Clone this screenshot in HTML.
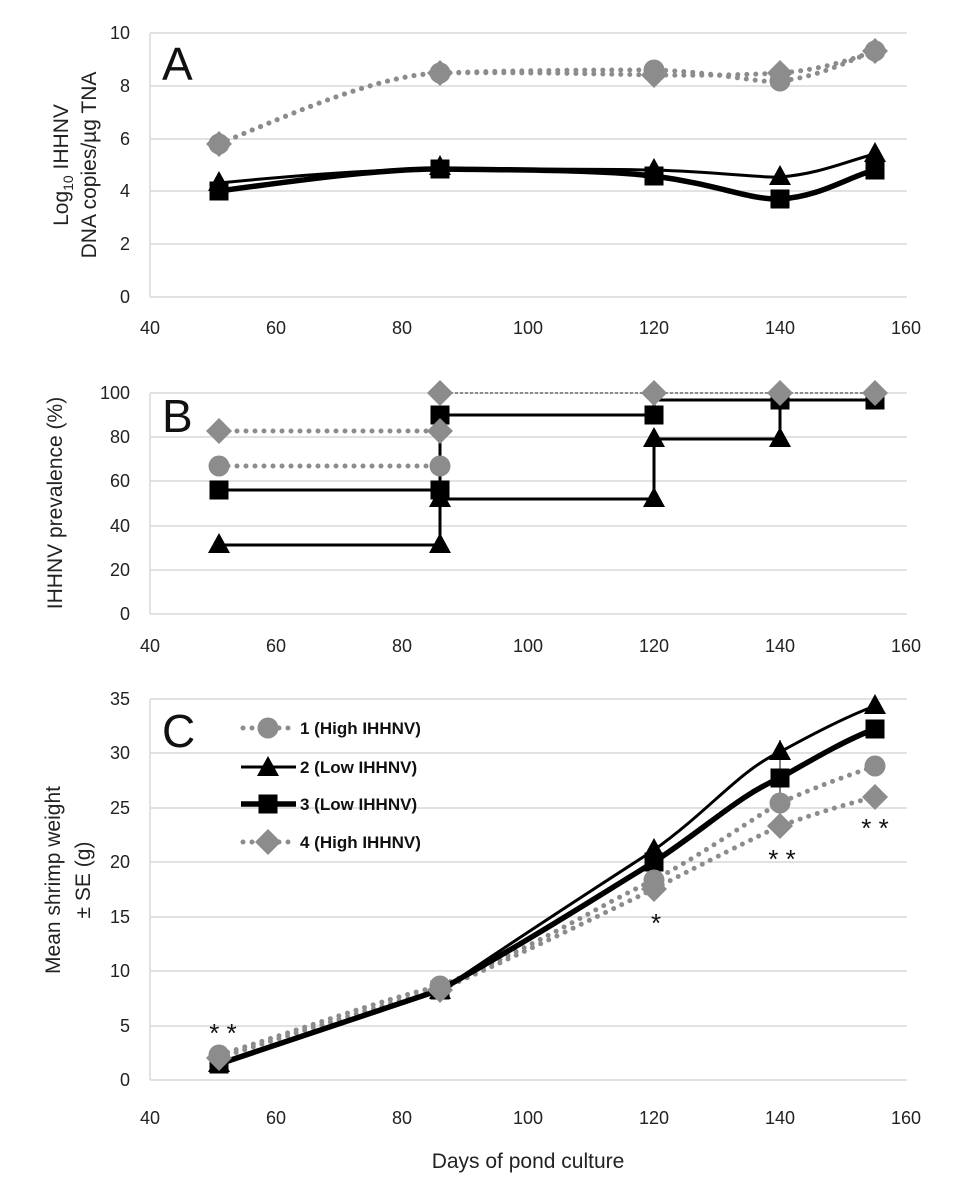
<!DOCTYPE html>
<html><head><meta charset="utf-8"><style>
html,body{margin:0;padding:0;background:#fff;}
svg{display:block;font-family:"Liberation Sans",sans-serif;}
.t{font-size:18px;fill:#222;}
.g{stroke:#d9d9d9;stroke-width:1.5;}
.gr{fill:none;stroke:#8c8c8c;stroke-width:5;stroke-linecap:round;stroke-dasharray:0 9;}
.bk{fill:none;stroke:#000;stroke-width:3;}
.bk2{fill:none;stroke:#000;stroke-width:5.5;}
</style></head><body>
<svg width="960" height="1182" viewBox="0 0 960 1182">
<defs>
<g id="ci"><circle r="10.5" fill="#8c8c8c"/></g>
<g id="di"><polygon points="0,-13 13,0 0,13 -13,0" fill="#8c8c8c"/></g>
<g id="sq"><rect x="-9.5" y="-9.5" width="19" height="19" fill="#000"/></g>
<g id="tr"><polygon points="0,-12 11,8 -11,8" fill="#000"/></g>
</defs>

<!-- Panel A -->
<g>
<line class="g" x1="150" y1="33" x2="907" y2="33"/><line class="g" x1="150" y1="86" x2="907" y2="86"/>
<line class="g" x1="150" y1="139" x2="907" y2="139"/><line class="g" x1="150" y1="191" x2="907" y2="191"/>
<line class="g" x1="150" y1="244" x2="907" y2="244"/><line class="g" x1="150" y1="297" x2="907" y2="297"/>
<line class="g" x1="150" y1="33" x2="150" y2="297"/>
<g class="t" text-anchor="end"><text x="130" y="39">10</text><text x="130" y="92">8</text><text x="130" y="145">6</text><text x="130" y="197">4</text><text x="130" y="250">2</text><text x="130" y="303">0</text></g>
<g class="t" text-anchor="middle"><text x="150" y="334">40</text><text x="276" y="334">60</text><text x="402" y="334">80</text><text x="528" y="334">100</text><text x="654" y="334">120</text><text x="780" y="334">140</text><text x="906" y="334">160</text></g>
<text x="162" y="80" font-size="46" fill="#111">A</text>
<text transform="translate(68,165) rotate(-90)" text-anchor="middle" font-size="21" fill="#222">Log<tspan font-size="14" dy="5">10</tspan><tspan dy="-5"> IHHNV</tspan></text>
<text transform="translate(96,165) rotate(-90)" text-anchor="middle" font-size="21" fill="#222">DNA copies/µg TNA</text>
<path class="gr" d="M219,144 C300,110 380,75 440,73 C520,70 600,70 654,70 C720,72 760,84 780,81 C820,77 850,60 875,51"/>
<path class="gr" d="M219,144 C300,110 380,75 440,73 C520,72 600,74 654,75 C720,76 760,74 780,73 C820,70 850,60 875,51"/>
<path class="bk" d="M219,183 C300,175 380,169 440,169 C520,169 600,169 654,170 C720,172 760,178 780,177 C820,174 850,160 875,154"/>
<path class="bk2" d="M219,191 C300,180 380,169 440,169 C520,170 600,170 654,176 C720,185 750,200 780,199 C820,197 850,176 875,170"/>
<use href="#ci" x="219" y="144"/><use href="#di" x="219" y="144"/>
<use href="#ci" x="440" y="73"/><use href="#di" x="440" y="73"/>
<use href="#ci" x="654" y="70"/><use href="#di" x="654" y="75"/>
<use href="#ci" x="780" y="81"/><use href="#di" x="780" y="73"/>
<use href="#ci" x="875" y="51"/><use href="#di" x="875" y="51"/>
<use href="#tr" x="219" y="183"/><use href="#sq" x="219" y="191"/>
<use href="#tr" x="440" y="167"/><use href="#sq" x="440" y="169"/>
<use href="#tr" x="654" y="170"/><use href="#sq" x="654" y="176"/>
<use href="#tr" x="780" y="177"/><use href="#sq" x="780" y="199"/>
<use href="#tr" x="875" y="154"/><use href="#sq" x="875" y="170"/>
</g>

<!-- Panel B -->
<g>
<line class="g" x1="150" y1="393" x2="907" y2="393"/><line class="g" x1="150" y1="437" x2="907" y2="437"/>
<line class="g" x1="150" y1="481" x2="907" y2="481"/><line class="g" x1="150" y1="526" x2="907" y2="526"/>
<line class="g" x1="150" y1="570" x2="907" y2="570"/><line class="g" x1="150" y1="614" x2="907" y2="614"/>
<line class="g" x1="150" y1="393" x2="150" y2="614"/>
<g class="t" text-anchor="end"><text x="130" y="399">100</text><text x="130" y="443">80</text><text x="130" y="487">60</text><text x="130" y="532">40</text><text x="130" y="576">20</text><text x="130" y="620">0</text></g>
<g class="t" text-anchor="middle"><text x="150" y="652">40</text><text x="276" y="652">60</text><text x="402" y="652">80</text><text x="528" y="652">100</text><text x="654" y="652">120</text><text x="780" y="652">140</text><text x="906" y="652">160</text></g>
<text x="162" y="432" font-size="46" fill="#111">B</text>
<text transform="translate(62,503) rotate(-90)" text-anchor="middle" font-size="21" fill="#222">IHHNV prevalence (%)</text>
<path class="gr" d="M219,431 H440"/><path class="gr" d="M219,466 H440"/>
<path fill="none" stroke="#8c8c8c" stroke-width="2" stroke-dasharray="3 2" d="M440,393 H875"/>
<path class="bk" d="M219,490 H440 V415 H654 V400 H875"/>
<path class="bk" d="M219,545 H440 V499 H654 V439 H780 V400 H875"/>
<use href="#di" x="219" y="431"/><use href="#ci" x="219" y="466"/>
<use href="#sq" x="219" y="490"/><use href="#tr" x="219" y="545"/>
<use href="#sq" x="440" y="415"/><use href="#di" x="440" y="393"/><use href="#di" x="440" y="431"/><use href="#ci" x="440" y="466"/>
<use href="#sq" x="440" y="490"/><use href="#tr" x="440" y="499"/><use href="#tr" x="440" y="545"/>
<use href="#sq" x="654" y="415"/><use href="#di" x="654" y="393"/><use href="#tr" x="654" y="439"/><use href="#tr" x="654" y="499"/>
<use href="#sq" x="780" y="400"/><use href="#di" x="780" y="393"/><use href="#tr" x="780" y="439"/>
<use href="#sq" x="875" y="400"/><use href="#di" x="875" y="393"/>
</g>

<!-- Panel C -->
<g>
<line class="g" x1="150" y1="699" x2="907" y2="699"/><line class="g" x1="150" y1="753" x2="907" y2="753"/>
<line class="g" x1="150" y1="808" x2="907" y2="808"/><line class="g" x1="150" y1="862" x2="907" y2="862"/>
<line class="g" x1="150" y1="917" x2="907" y2="917"/><line class="g" x1="150" y1="971" x2="907" y2="971"/>
<line class="g" x1="150" y1="1026" x2="907" y2="1026"/><line class="g" x1="150" y1="1080" x2="907" y2="1080"/>
<line class="g" x1="150" y1="699" x2="150" y2="1080"/>
<g class="t" text-anchor="end"><text x="130" y="705">35</text><text x="130" y="759">30</text><text x="130" y="814">25</text><text x="130" y="868">20</text><text x="130" y="923">15</text><text x="130" y="977">10</text><text x="130" y="1032">5</text><text x="130" y="1086">0</text></g>
<g class="t" text-anchor="middle"><text x="150" y="1124">40</text><text x="276" y="1124">60</text><text x="402" y="1124">80</text><text x="528" y="1124">100</text><text x="654" y="1124">120</text><text x="780" y="1124">140</text><text x="906" y="1124">160</text></g>
<text x="528" y="1168" text-anchor="middle" font-size="21" fill="#222">Days of pond culture</text>
<text x="162" y="747" font-size="46" fill="#111">C</text>
<text transform="translate(60,880) rotate(-90)" text-anchor="middle" font-size="21" fill="#222">Mean shrimp weight</text>
<text transform="translate(90,880) rotate(-90)" text-anchor="middle" font-size="21" fill="#222">± SE (g)</text>
<g font-size="17" font-weight="bold" fill="#111">
<path class="gr" d="M243,728 H290"/><use href="#ci" x="268" y="728"/><text x="300" y="734">1 (High IHHNV)</text>
<path class="bk" d="M241,767 H296"/><use href="#tr" x="268" y="768"/><text x="300" y="773">2 (Low IHHNV)</text>
<path class="bk2" d="M241,804 H296"/><use href="#sq" x="268" y="804"/><text x="300" y="810">3 (Low IHHNV)</text>
<path class="gr" d="M243,842 H296"/><use href="#di" x="268" y="842"/><text x="300" y="848">4 (High IHHNV)</text>
</g>
<path class="gr" d="M219,1055 C300,1030 380,1000 440,986 C530,950 600,905 654,880 C710,850 750,820 780,803 C820,785 850,775 875,766"/>
<path class="gr" d="M219,1058 C300,1032 380,1005 440,990 C530,950 600,915 654,889 C710,860 750,840 780,826 C820,812 850,803 875,797"/>
<path class="bk" d="M219,1064 C300,1035 380,1010 440,991 C530,930 600,885 654,850 C710,810 740,770 780,752 C820,730 850,715 875,706"/>
<path class="bk2" d="M219,1064 C300,1037 380,1010 440,990 C530,940 600,895 654,862 C710,825 740,795 780,778 C820,755 850,738 875,729"/>
<line x1="780" y1="740" x2="780" y2="815" stroke="#555" stroke-width="1.5"/>
<use href="#tr" x="219" y="1064"/><use href="#sq" x="219" y="1064"/><use href="#di" x="219" y="1058"/><use href="#ci" x="219" y="1055"/>
<use href="#tr" x="440" y="991"/><use href="#sq" x="440" y="990"/><use href="#di" x="440" y="990"/><use href="#ci" x="440" y="986"/>
<use href="#tr" x="654" y="850"/><use href="#sq" x="654" y="862"/><use href="#ci" x="654" y="880"/><use href="#di" x="654" y="889"/>
<use href="#tr" x="780" y="752"/><use href="#sq" x="780" y="778"/><use href="#ci" x="780" y="803"/><use href="#di" x="780" y="826"/>
<use href="#tr" x="875" y="706"/><use href="#sq" x="875" y="729"/><use href="#ci" x="875" y="766"/><use href="#di" x="875" y="797"/>
<g font-size="26" fill="#111" text-anchor="middle">
<text x="223" y="1042">* *</text><text x="656" y="932">*</text><text x="782" y="868">* *</text><text x="875" y="837">* *</text>
</g>
</g>
</svg>
</body></html>
